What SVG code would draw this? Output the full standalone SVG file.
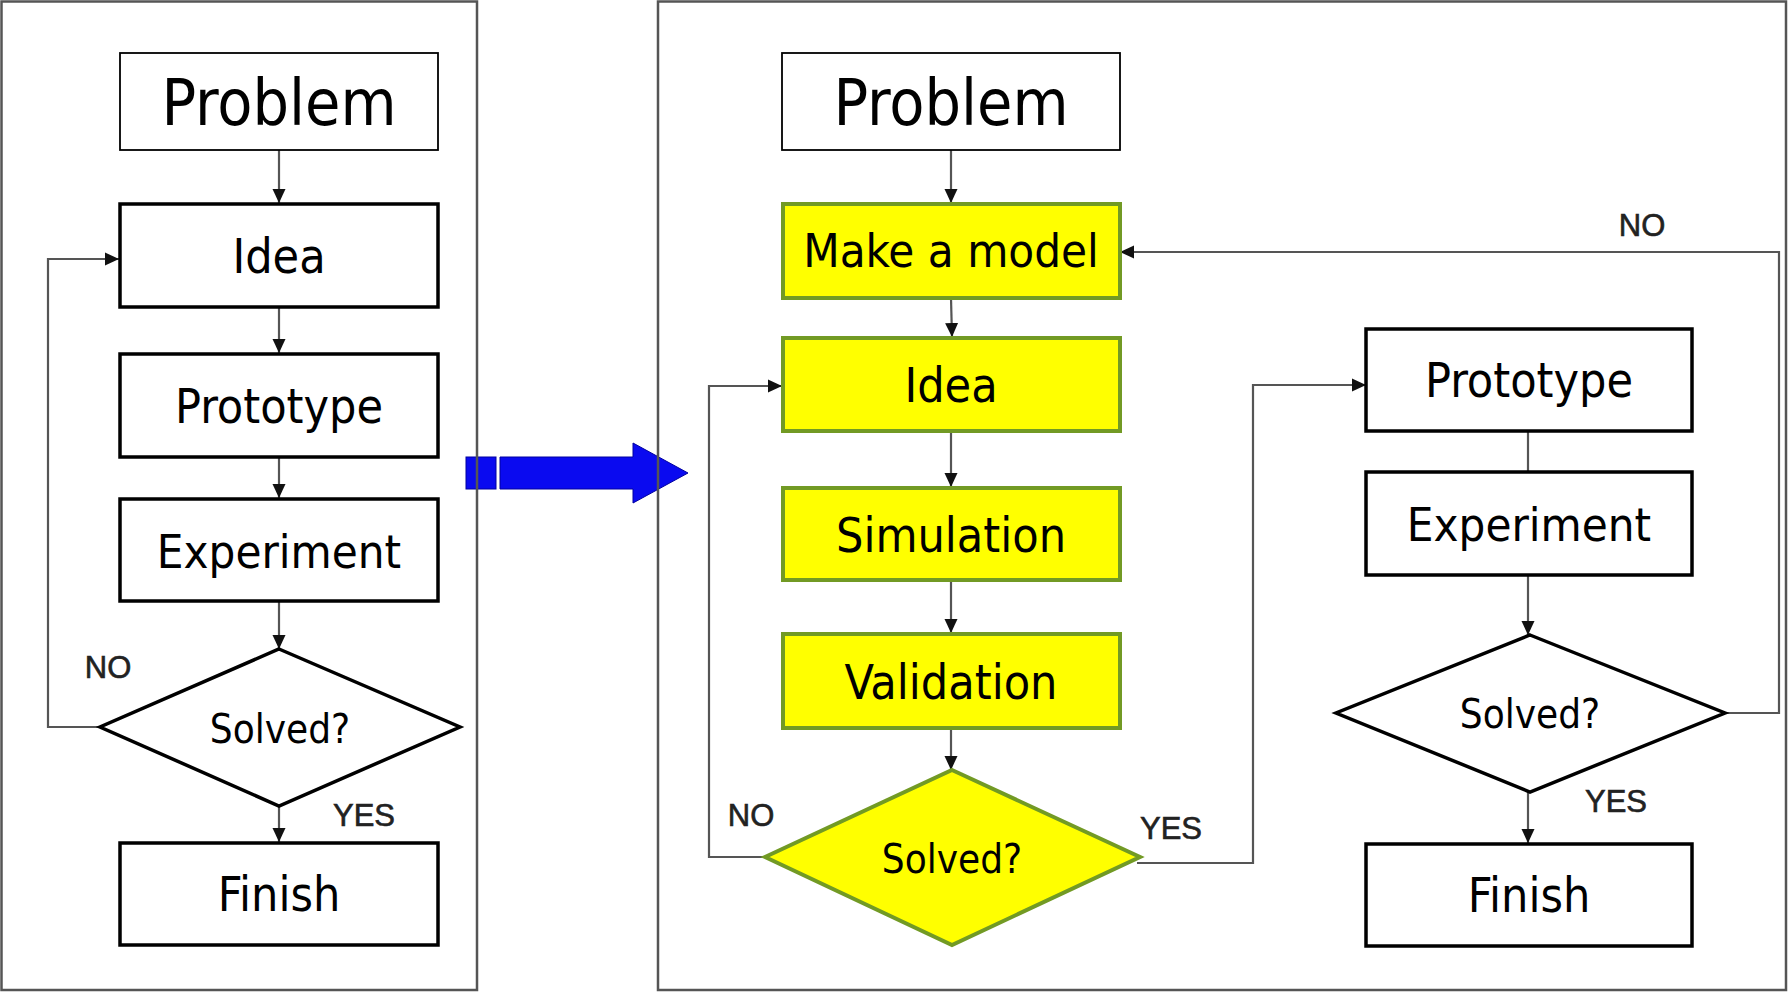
<svg xmlns="http://www.w3.org/2000/svg" width="1788" height="993" viewBox="0 0 1788 993">
<defs>
<style>
.bx{fill:#fff;stroke:#000;stroke-width:3.5}
.bxt{fill:#fff;stroke:#000;stroke-width:1.8}
.yl{fill:#ffff00;stroke:#729a24;stroke-width:4}
.t{font-family:"DejaVu Sans Condensed","DejaVu Sans",sans-serif;font-stretch:condensed;fill:#000;text-anchor:middle}
.lb{font-family:"Liberation Sans",Arial,sans-serif;font-size:31px;fill:#222;stroke:#222;stroke-width:0.6;text-anchor:middle}
.cn{fill:none;stroke:#555;stroke-width:2.2}
.fr{fill:none;stroke:#555;stroke-width:2.5}
</style>
<marker id="ah" markerUnits="userSpaceOnUse" markerWidth="16" markerHeight="16" refX="14" refY="8" orient="auto">
<path d="M0,1.5 L14,8 L0,14.5 z" fill="#111"/>
</marker>
</defs>
<rect width="1788" height="993" fill="#fff"/>

<g id="bigarrow">
<rect x="466" y="457" width="30" height="32" fill="#0a0af0" stroke="#0000a0" stroke-width="1"/>
<polygon points="500,457 633,457 633,443 688,473 633,503 633,489 500,489" fill="#0a0af0" stroke="#0000a0" stroke-width="1"/>
</g>

<g id="frames">
<rect class="fr" x="1.5" y="1.5" width="475.5" height="988.5"/>
<rect class="fr" x="658" y="1.5" width="1128" height="988.5"/>
</g>

<g id="connectors">
<line class="cn" x1="279" y1="150" x2="279" y2="203" marker-end="url(#ah)"/>
<line class="cn" x1="279" y1="307" x2="279" y2="353" marker-end="url(#ah)"/>
<line class="cn" x1="279" y1="457" x2="279" y2="498" marker-end="url(#ah)"/>
<line class="cn" x1="279" y1="601" x2="279" y2="649" marker-end="url(#ah)"/>
<line class="cn" x1="279" y1="806" x2="279" y2="842" marker-end="url(#ah)"/>
<polyline class="cn" points="100,727 48,727 48,259 119,259" marker-end="url(#ah)"/>

<line class="cn" x1="951" y1="150" x2="951" y2="203" marker-end="url(#ah)"/>
<line class="cn" x1="951" y1="298" x2="952" y2="337" marker-end="url(#ah)"/>
<line class="cn" x1="951" y1="431" x2="951" y2="487" marker-end="url(#ah)"/>
<line class="cn" x1="951" y1="580" x2="951" y2="633" marker-end="url(#ah)"/>
<line class="cn" x1="951" y1="728" x2="951" y2="770" marker-end="url(#ah)"/>
<polyline class="cn" points="765,857 709,857 709,386 782,386" marker-end="url(#ah)"/>
<polyline class="cn" points="1137,863 1253,863 1253,385 1366,385" marker-end="url(#ah)"/>

<line class="cn" x1="1528" y1="431" x2="1528" y2="471"/>
<line class="cn" x1="1528" y1="575" x2="1528" y2="635" marker-end="url(#ah)"/>
<line class="cn" x1="1528" y1="792" x2="1528" y2="843" marker-end="url(#ah)"/>
<polyline class="cn" points="1725,713 1779,713 1779,252 1120,252" marker-end="url(#ah)"/>
</g>

<g id="l-problem"><rect class="bxt" x="120" y="53" width="318" height="97"/><text class="t" x="279" y="125" font-size="64">Problem</text></g>
<g id="l-idea"><rect class="bx" x="120" y="204" width="318" height="103"/><text class="t" x="279" y="273" font-size="48">Idea</text></g>
<g id="l-prototype"><rect class="bx" x="120" y="354" width="318" height="103"/><text class="t" x="279" y="423" font-size="48">Prototype</text></g>
<g id="l-experiment"><rect class="bx" x="120" y="499" width="318" height="102"/><text class="t" x="279" y="568" font-size="47">Experiment</text></g>
<g id="l-solved"><polygon class="bx" points="279,649 460,727 279,806 100,727" stroke-width="3.2"/><text class="t" x="280" y="743" font-size="40">Solved?</text></g>
<g id="l-finish"><rect class="bx" x="120" y="843" width="318" height="102"/><text class="t" x="279" y="911" font-size="48">Finish</text></g>

<g id="r-problem"><rect class="bxt" x="782" y="53" width="338" height="97"/><text class="t" x="951" y="125" font-size="64">Problem</text></g>
<g id="r-model"><rect class="yl" x="783" y="204" width="337" height="94"/><text class="t" x="951" y="267" font-size="47">Make a model</text></g>
<g id="r-idea"><rect class="yl" x="783" y="338" width="337" height="93"/><text class="t" x="951" y="402" font-size="48">Idea</text></g>
<g id="r-simulation"><rect class="yl" x="783" y="488" width="337" height="92"/><text class="t" x="951" y="552" font-size="48">Simulation</text></g>
<g id="r-validation"><rect class="yl" x="783" y="634" width="337" height="94"/><text class="t" x="951" y="699" font-size="48">Validation</text></g>
<g id="r-solved"><polygon class="yl" points="952,770 1140,857 952,945 765,857"/><text class="t" x="952" y="873" font-size="40">Solved?</text></g>

<g id="rr-prototype"><rect class="bx" x="1366" y="329" width="326" height="102"/><text class="t" x="1529" y="397" font-size="48">Prototype</text></g>
<g id="rr-experiment"><rect class="bx" x="1366" y="472" width="326" height="103"/><text class="t" x="1529" y="541" font-size="47">Experiment</text></g>
<g id="rr-solved"><polygon class="bx" points="1530,635 1725,713 1530,792 1336,713" stroke-width="3.2"/><text class="t" x="1530" y="728" font-size="40">Solved?</text></g>
<g id="rr-finish"><rect class="bx" x="1366" y="844" width="326" height="102"/><text class="t" x="1529" y="912" font-size="48">Finish</text></g>

<g id="labels">
<text class="lb" x="108" y="678">NO</text>
<text class="lb" x="364" y="826">YES</text>
<text class="lb" x="751" y="826">NO</text>
<text class="lb" x="1171" y="839">YES</text>
<text class="lb" x="1642" y="236">NO</text>
<text class="lb" x="1616" y="812">YES</text>
</g>
</svg>
